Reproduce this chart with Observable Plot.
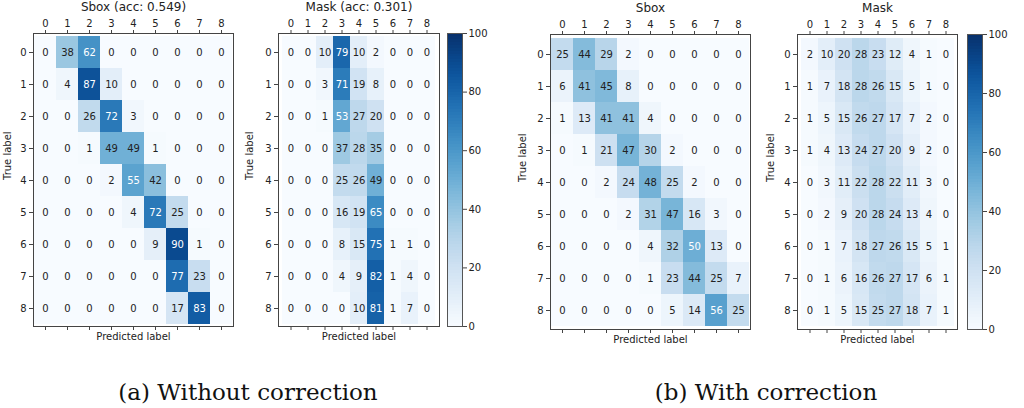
<!DOCTYPE html>
<html><head><meta charset="utf-8">
<script src="https://cdn.jsdelivr.net/npm/d3@7"></script>
<script src="https://cdn.jsdelivr.net/npm/@observablehq/plot@0.6"></script>
<style>
body{margin:0;background:#fff;}
#wrap{position:relative;width:1024px;height:408px;overflow:hidden;background:#fff;font-family:"DejaVu Sans",sans-serif;}
.p{position:absolute;top:0;}
.cap{position:absolute;top:379px;font-family:"DejaVu Serif","Liberation Serif",serif;font-size:23px;line-height:27px;color:#111;transform:translateX(-50%);white-space:nowrap;}
</style></head><body><div id="wrap"></div>
<script>
const labels = [0,1,2,3,4,5,6,7,8];
const sboxA = [
  [0,38,62,0,0,0,0,0,0],
  [0,4,87,10,0,0,0,0,0],
  [0,0,26,72,3,0,0,0,0],
  [0,0,1,49,49,1,0,0,0],
  [0,0,0,2,55,42,0,0,0],
  [0,0,0,0,4,72,25,0,0],
  [0,0,0,0,0,9,90,1,0],
  [0,0,0,0,0,0,77,23,0],
  [0,0,0,0,0,0,17,83,0]
];
const maskA = [
  [0,0,10,79,10,2,0,0,0],
  [0,0,3,71,19,8,0,0,0],
  [0,0,1,53,27,20,0,0,0],
  [0,0,0,37,28,35,0,0,0],
  [0,0,0,25,26,49,0,0,0],
  [0,0,0,16,19,65,0,0,0],
  [0,0,0,8,15,75,1,1,0],
  [0,0,0,4,9,82,1,4,0],
  [0,0,0,0,10,81,1,7,0]
];
const sboxB = [
  [25,44,29,2,0,0,0,0,0],
  [6,41,45,8,0,0,0,0,0],
  [1,13,41,41,4,0,0,0,0],
  [0,1,21,47,30,2,0,0,0],
  [0,0,2,24,48,25,2,0,0],
  [0,0,0,2,31,47,16,3,0],
  [0,0,0,0,4,32,50,13,0],
  [0,0,0,0,1,23,44,25,7],
  [0,0,0,0,0,5,14,56,25]
];
const maskB = [
  [2,10,20,28,23,12,4,1,0],
  [1,7,18,28,26,15,5,1,0],
  [1,5,15,26,27,17,7,2,0],
  [1,4,13,24,27,20,9,2,0],
  [0,3,11,22,28,22,11,3,0],
  [0,2,9,20,28,24,13,4,0],
  [0,1,7,18,27,26,15,5,1],
  [0,1,6,16,26,27,17,6,1],
  [0,1,5,15,25,27,18,7,1]
];
const titles = ["Sbox (acc: 0.549)", "Mask (acc: 0.301)", "Sbox", "Mask"];
const captions = ["(a) Without correction", "(b) With correction"];
const colorTicks = [0,20,40,60,80,100];
const xLabel = "Predicted label";
const yLabel = "True label";

const H = 350;
const wrap = document.getElementById("wrap");

function cells(m){
  const out = [];
  m.forEach((row,i)=>row.forEach((v,j)=>out.push({t:labels[i], p:labels[j], v})));
  return out;
}

function panel(m, title, o){
  const data = cells(m);
  return Plot.plot({
    width:o.w, height:H, marginLeft:o.ml, marginRight:o.mr, marginTop:o.mt, marginBottom:H-o.fb,
    style:{background:"transparent", overflow:"visible", fontFamily:"DejaVu Sans", fontSize:"10px", color:"#222"},
    x:{domain:labels, padding:0},
    y:{domain:labels, padding:0},
    color:{type:"linear", scheme:"blues", domain:[0,100]},
    marks:[
      Plot.cell(data,{x:"p", y:"t", fill:"v"}),
      Plot.text(data,{filter:d=>d.v<50, x:"p", y:"t", text:"v", fill:"#222", fontSize:10}),
      Plot.text(data,{filter:d=>d.v>=50, x:"p", y:"t", text:"v", fill:"white", fontSize:10}),
      Plot.frame({stroke:"#444"}),
      Plot.axisX({anchor:"top", tickSize:4, tickPadding:3, label:null, fontSize:10, stroke:"#444"}),
      Plot.axisX({anchor:"bottom", tickSize:4, tickFormat:()=>"", label:null, stroke:"#444"}),
      Plot.axisY({anchor:"left", tickSize:4, tickPadding:3, label:null, fontSize:10, stroke:"#444"}),
      Plot.text([title],{frameAnchor:"top", dy:-26, lineAnchor:"middle", fontSize:12, fill:"#222"}),
      Plot.text([xLabel],{frameAnchor:"bottom", dy:10, lineAnchor:"middle", fontSize:10, fill:"#222"}),
      Plot.text([yLabel],{frameAnchor:"left", dx:-o.tl, rotate:-90, lineAnchor:"middle", fontSize:10, fill:"#222"})
    ]
  });
}

function colorbar(o){
  const bw = 15;
  return Plot.plot({
    width:o.w, height:H, marginLeft:o.ml, marginRight:o.w-o.ml-bw, marginTop:o.mt, marginBottom:H-o.fb,
    style:{background:"transparent", overflow:"visible", fontFamily:"DejaVu Sans", fontSize:"10px", color:"#222"},
    x:{domain:[0,1], axis:null},
    y:{domain:[0,100]},
    color:{type:"linear", scheme:"blues", domain:[0,100]},
    marks:[
      Plot.rect(d3.range(0,100,1),{x1:0, x2:1, y1:d=>d, y2:d=>d+1, fill:d=>d+0.5, shapeRendering:"crispEdges"}),
      Plot.frame({stroke:"#555"}),
      Plot.axisY({anchor:"right", ticks:colorTicks, tickSize:4, tickPadding:2, label:null, fontSize:10, stroke:"#444"})
    ]
  });
}

function place(node, left){
  node.classList.add("p");
  node.style.left = left + "px";
  wrap.appendChild(node);
}

place(panel(sboxA, titles[0], {w:240, ml:33, mr:7, mt:33, fb:326, tl:26}), 0);
place(panel(maskA, titles[1], {w:205, ml:38, mr:6, mt:33, fb:326, tl:29}), 240);
place(colorbar({w:60, ml:7, mt:33, fb:326}), 440);
place(panel(sboxB, titles[2], {w:250, ml:40, mr:10, mt:34, fb:329, tl:28}), 510);
place(panel(maskB, titles[3], {w:205, ml:37, mr:8, mt:34, fb:329, tl:27}), 760);
place(colorbar({w:64, ml:7, mt:34, fb:329}), 960);

[[captions[0],248],[captions[1],766]].forEach(([t,x])=>{
  const d = document.createElement("div");
  d.className = "cap";
  d.style.left = x + "px";
  d.textContent = t;
  wrap.appendChild(d);
});
</script></body></html>
